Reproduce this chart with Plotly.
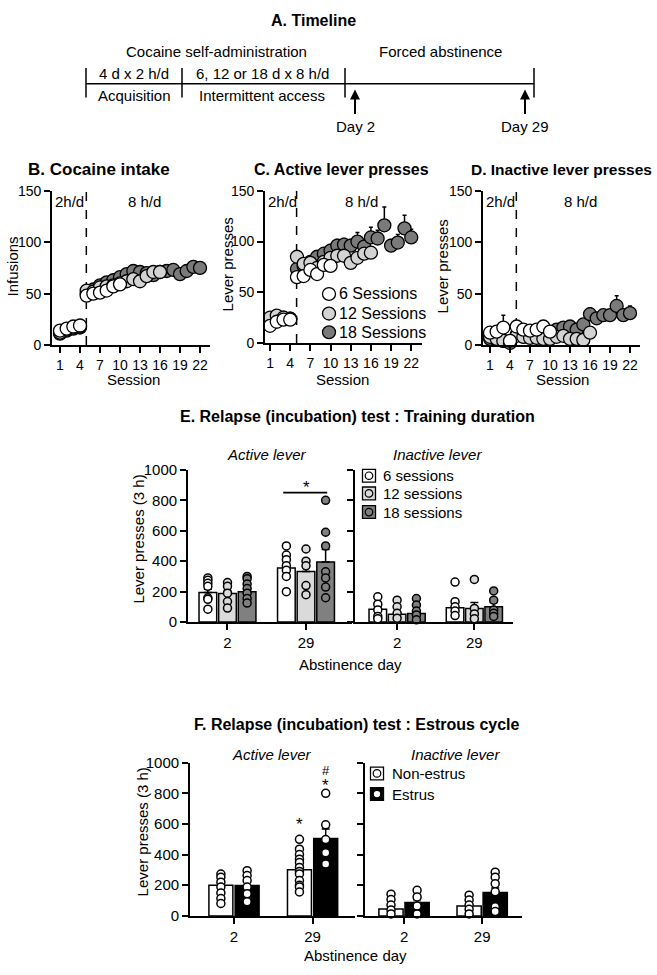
import plotly.graph_objects as go

W, H = 657, 975
FONT = "Arial, 'Liberation Sans', Helvetica, sans-serif"

# ---------------- DATA ----------------
group_names = ["6 Sessions", "12 Sessions", "18 Sessions"]
bar_group_names = ["6 sessions", "12 sessions", "18 sessions"]
estrus_names = ["Non-estrus", "Estrus"]
session_ticks = [1, 4, 7, 10, 13, 16, 19, 22]
days = ["2", "29"]

sessions_6 = list(range(1, 11))
sessions_12 = list(range(1, 17))
sessions_18 = list(range(1, 23))

# B. Cocaine intake (infusions)
inf_6 = [14, 16, 18, 19, 48, 50, 51, 53, 57, 59]
inf_12 = [12, 15, 17, 18, 53, 52, 56, 57, 58, 60, 62, 64, 62, 67, 71, 71]
inf_18 = [11, 14, 16, 17, 50, 54, 58, 61, 63, 66, 69, 72, 71, 70, 68, 71, 72, 73, 69, 72, 76, 75]
inf_err_6 = [2, 2, 2, 2, 3, 3, 3, 3, 3, 3]
inf_err_12 = [2, 2, 2, 2, 3, 3, 3, 3, 3, 3, 3, 3, 3, 3, 3, 3]
inf_err_18 = [2, 2, 2, 2, 3, 3, 3, 3, 3, 3, 3, 3, 3, 3, 3, 3, 3, 3, 3, 3, 3, 3]

# C. Active lever presses
act_6 = [17, 21, 23, 23, 65, 66, 72, 68, 77, 76]
act_12 = [25, 27, 25, 24, 85, 78, 79, 74, 80, 84, 86, 86, 79, 84, 88, 89]
act_18 = [22, 24, 25, 24, 73, 76, 80, 85, 88, 91, 96, 97, 96, 100, 95, 104, 103, 116, 96, 99, 113, 104]
act_err_6 = [3, 3, 3, 3, 4, 4, 4, 4, 4, 4]
act_err_12 = [3, 3, 3, 3, 5, 5, 5, 5, 5, 5, 5, 5, 5, 5, 5, 5]
act_err_18 = [3, 3, 3, 3, 5, 5, 5, 6, 6, 6, 6, 6, 6, 9, 6, 10, 8, 18, 6, 8, 13, 8]

# D. Inactive lever presses
inact_6 = [12, 13, 17, 4, 18, 15, 14, 15, 18, 13]
inact_12 = [8, 6, 4, 2, 9, 8, 7, 7, 6, 6, 8, 9, 6, 6, 5, 12]
inact_18 = [6, 5, 4, 3, 10, 8, 8, 9, 9, 10, 15, 17, 18, 15, 20, 30, 26, 29, 29, 38, 29, 31]
inact_err_6 = [3, 3, 12, 4, 3, 3, 3, 3, 3, 3]
inact_err_12 = [2, 2, 2, 2, 2, 2, 2, 2, 2, 2, 2, 2, 2, 2, 2, 2]
inact_err_18 = [2, 2, 2, 2, 3, 3, 3, 3, 3, 3, 4, 4, 4, 4, 4, 6, 5, 5, 5, 10, 5, 7]

# E. Training duration - active lever
E_act_mean = [[194, 355], [188, 333], [199, 395]]
E_act_sem = [[22, 32], [20, 37], [18, 81]]
E_act_pts = [
    [[290, 275, 255, 235, 160, 150, 85], [500, 440, 410, 370, 340, 300, 200]],
    [[260, 235, 190, 135, 92], [480, 400, 370, 240, 180]],
    [[300, 285, 250, 220, 190, 155, 125], [800, 590, 500, 330, 290, 230, 160]],
]
# E. Training duration - inactive lever
E_inact_mean = [[84, 95], [52, 90], [56, 101]]
E_inact_sem = [[18, 25], [15, 38], [12, 28]]
E_inact_pts = [
    [[166, 118, 80, 37, 22], [263, 134, 101, 73, 43]],
    [[144, 101, 58, 26], [280, 90, 54, 22]],
    [[155, 112, 73, 47, 15], [205, 144, 80, 58, 37]],
]

# F. Estrous cycle - active lever
F_act_mean = [[200, 301], [198, 505]]
F_act_sem = [[20, 27], [22, 62]]
F_act_pts = [
    [[273, 252, 220, 188, 150, 113, 81], [500, 435, 400, 370, 348, 316, 290, 274, 231, 200, 188, 156]],
    [[295, 263, 231, 188, 145, 92], [800, 594, 498, 412, 338]],
]
# F. Estrous cycle - inactive lever
F_inact_mean = [[45, 64], [88, 152]]
F_inact_sem = [[12, 15], [18, 30]]
F_inact_pts = [
    [[142, 107, 71, 39, 13], [135, 103, 71, 43, 13]],
    [[167, 124, 64, 13], [285, 253, 210, 157, 60, 28]],
]

# ---------------- STYLE ----------------
line_colors = ["#ffffff", "#d3d3d3", "#7a7a7a"]
bar_colors = ["#ffffff", "#dadada", "#808080"]
estrus_colors = ["#ffffff", "#000000"]
estrus_dot_colors = ["#ffffff", "#ffffff"]


def fx(x):
    return x / W


def fy(y):
    return 1 - y / H


fig = go.Figure()

# axis layout: name -> (px domain x, px domain y (top,bottom))
axes = {
    "": ((52, 210), (185, 342)),
    "2": ((265, 422), (185, 340)),
    "3": ((483, 640), (185, 342)),
    "4": ((188, 352), (469, 624)),
    "5": ((355, 513), (469, 624)),
    "6": ((190, 355), (767, 923)),
    "7": ((365, 522), (767, 923)),
}

axis_common = dict(showline=True, linecolor="black", linewidth=1.8, ticks="outside",
                   ticklen=6, tickwidth=1.8, tickcolor="black", showgrid=False,
                   zeroline=False, fixedrange=True)

layout_axes = {}
session_ranges = {"": [-0.2, 23.5], "2": [0.25, 23.6], "3": [-0.05, 23.5]}
for k, ((x0, x1), (yt, yb)) in axes.items():
    xa = "xaxis" + k
    ya = "yaxis" + k
    if k in session_ranges:
        layout_axes[xa] = dict(axis_common, domain=[fx(x0), fx(x1)], anchor="y" + k,
                               range=session_ranges[k], tickvals=session_ticks,
                               tickfont=dict(size=14, color="black", family=FONT))
        layout_axes[ya] = dict(axis_common, domain=[fy(yb), fy(yt)], anchor="x" + k,
                               range=[0, 150], tickvals=[0, 50, 100, 150],
                               tickfont=dict(size=14, color="black", family=FONT))
    else:
        layout_axes[xa] = dict(axis_common, domain=[fx(x0), fx(x1)], anchor="y" + k,
                               tickvals=[0, 1], ticktext=days,
                               tickfont=dict(size=15, color="black", family=FONT))
        layout_axes[ya] = dict(axis_common, domain=[fy(yb), fy(yt)], anchor="x" + k,
                               range=[0, 1000], tickvals=[0, 200, 400, 600, 800, 1000],
                               showticklabels=(k in ("4", "6")),
                               tickfont=dict(size=15, color="black", family=FONT))
layout_axes["xaxis4"]["range"] = [-0.503, 1.586]
layout_axes["xaxis5"]["range"] = [-0.545, 1.5]
layout_axes["xaxis6"]["range"] = [-0.56, 1.54]
layout_axes["xaxis7"]["range"] = [-0.5, 1.51]


# ---------------- B-D line panels ----------------
def add_session_panel(k, series, errs):
    xs_list = [sessions_6, sessions_12, sessions_18]
    for g in [2, 1, 0]:
        fig.add_trace(go.Scatter(
            x=xs_list[g], y=series[g], mode="markers",
            marker=dict(size=13, color=line_colors[g], line=dict(color="black", width=1.3)),
            error_y=dict(type="data", array=errs[g], arrayminus=[0] * len(errs[g]),
                         symmetric=False, color="black", thickness=1.5, width=2),
            xaxis="x" + k, yaxis="y" + k, cliponaxis=False, showlegend=False,
            name=group_names[g]))


add_session_panel("", [inf_6, inf_12, inf_18], [inf_err_6, inf_err_12, inf_err_18])
add_session_panel("2", [act_6, act_12, act_18], [act_err_6, act_err_12, act_err_18])
add_session_panel("3", [inact_6, inact_12, inact_18], [inact_err_6, inact_err_12, inact_err_18])


# ---------------- E/F bar panels ----------------
def add_bar_panel(k, means, sems, pts, colors, dot_colors, offsets, width, names):
    for g in range(len(means)):
        xs = [i + offsets[g] for i in range(len(days))]
        fig.add_trace(go.Bar(
            x=xs, y=means[g], width=width, name=names[g],
            marker=dict(color=colors[g], line=dict(color="black", width=1.5)),
            error_y=dict(type="data", array=sems[g], arrayminus=[0] * len(sems[g]),
                         symmetric=False, color="black", thickness=1.5, width=4),
            xaxis="x" + k, yaxis="y" + k, showlegend=False))
    for g in range(len(means)):
        for i, day_pts in enumerate(pts[g]):
            fig.add_trace(go.Scatter(
                x=[i + offsets[g]] * len(day_pts), y=day_pts, mode="markers",
                marker=dict(size=8, color=dot_colors[g], line=dict(color="black", width=1.5)),
                xaxis="x" + k, yaxis="y" + k, cliponaxis=False, showlegend=False,
                name=names[g]))


E_off = [-0.25, 0.0, 0.25]
F_off = [-0.167, 0.167]
add_bar_panel("4", E_act_mean, E_act_sem, E_act_pts, bar_colors, bar_colors, E_off, 0.225, bar_group_names)
add_bar_panel("5", E_inact_mean, E_inact_sem, E_inact_pts, bar_colors, bar_colors, E_off, 0.227, bar_group_names)
add_bar_panel("6", F_act_mean, F_act_sem, F_act_pts, estrus_colors, estrus_dot_colors, F_off, 0.305, estrus_names)
add_bar_panel("7", F_inact_mean, F_inact_sem, F_inact_pts, estrus_colors, estrus_dot_colors, F_off, 0.31, estrus_names)

# ---------------- shapes & annotations ----------------
shapes = []
annotations = []


def text(x, y, s, size=15, bold=False, italic=False, xanchor="center", yanchor="middle", angle=0):
    if bold:
        s = "<b>" + s + "</b>"
    if italic:
        s = "<i>" + s + "</i>"
    annotations.append(dict(x=fx(x), y=fy(y), xref="paper", yref="paper", text=s,
                            showarrow=False, xanchor=xanchor, yanchor=yanchor,
                            textangle=angle,
                            font=dict(size=size, color="black", family=FONT)))


def pline(x0, y0, x1, y1, w=1.5):
    shapes.append(dict(type="line", xref="paper", yref="paper", x0=fx(x0), y0=fy(y0),
                       x1=fx(x1), y1=fy(y1), line=dict(color="black", width=w)))


# A. Timeline
text(313, 12, "A. Timeline", size=16, bold=True)
text(216, 43, "Cocaine self-administration", size=15)
text(440, 43, "Forced abstinence", size=15)
text(134, 66, "4 d x 2 h/d", size=15)
text(262, 66, "6, 12 or 18 d x 8 h/d", size=15)
text(134, 88, "Acquisition", size=15)
text(262, 88, "Intermittent access", size=15)
pline(86, 76, 534, 76)
for xv in [86, 182, 345, 534]:
    pline(xv, 60, xv, 90)
for xv, lab in [(355, "Day 2"), (525, "Day 29")]:
    annotations.append(dict(x=fx(xv), y=fy(82), ax=0, ay=26, xref="paper", yref="paper",
                            axref="pixel", ayref="pixel", text="", showarrow=True,
                            arrowhead=2, arrowsize=1, arrowwidth=2, arrowcolor="black"))
    text(xv, 120, lab, size=15)

# B-D titles and labels
text(99, 163, "B. Cocaine intake", size=17, bold=True)
text(341, 163, "C. Active lever presses", size=16, bold=True)
text(561, 163, "D. Inactive lever presses", size=15.5, bold=True)
for xc in [133, 342, 562]:
    text(xc, 377, "Session", size=15)
text(12, 262, "Infusions", size=15, angle=-90)
text(227, 260, "Lever presses", size=15, angle=-90)
text(442, 262, "Lever presses", size=15, angle=-90)
for k, (x2h, x8h) in {"": (69, 144), "2": (282, 361), "3": (500, 580)}.items():
    text(x2h, 196, "2h/d", size=15)
    text(x8h, 196, "8 h/d", size=15)
    shapes.append(dict(type="line", xref="x" + k, yref="y" + k, x0=4.95, x1=4.95, y0=0, y1=150,
                       layer="below", line=dict(color="black", width=1.5, dash="dash")))

# C legend
for i, (yy, name) in enumerate(zip([290, 310, 329], group_names)):
    shapes.append(dict(type="circle", xref="paper", yref="paper",
                       x0=fx(329 - 6.5), x1=fx(329 + 6.5), y0=fy(yy + 6.5), y1=fy(yy - 6.5),
                       fillcolor=line_colors[i], line=dict(color="black", width=1.3)))
    text(337, yy, name, size=16, xanchor="left")

# E panel
text(357, 415, "E. Relapse (incubation) test : Training duration", size=16, bold=True)
text(267, 453, "Active lever", size=15, italic=True)
text(437, 453, "Inactive lever", size=15, italic=True)
text(139, 540, "Lever presses (3 h)", size=15, angle=-90)
text(350, 667, "Abstinence day", size=15)
shapes.append(dict(type="line", xref="x4", yref="y4", x0=1 - 0.29, x1=1 + 0.27, y0=850, y1=850,
                   line=dict(color="black", width=1.8)))
annotations.append(dict(x=1, y=850, xref="x4", yref="y4", text="*", showarrow=False,
                        yanchor="bottom", yshift=-6, font=dict(size=17, color="black", family=FONT)))
for i, (yy, name) in enumerate(zip([475, 493, 512], bar_group_names)):
    shapes.append(dict(type="rect", xref="paper", yref="paper",
                       x0=fx(369 - 6.5), x1=fx(369 + 6.5), y0=fy(yy + 6.5), y1=fy(yy - 6.5),
                       fillcolor=bar_colors[i], line=dict(color="black", width=1.3)))
    shapes.append(dict(type="circle", xref="paper", yref="paper",
                       x0=fx(369 - 3.8), x1=fx(369 + 3.8), y0=fy(yy + 3.8), y1=fy(yy - 3.8),
                       fillcolor=bar_colors[i], line=dict(color="black", width=1.2)))
    text(381, yy, name, size=15, xanchor="left")

# F panel
text(357, 728, "F. Relapse (incubation) test : Estrous cycle", size=16, bold=True)
text(272, 759, "Active lever", size=15, italic=True)
text(455, 759, "Inactive lever", size=15, italic=True)
text(142, 838, "Lever presses (3 h)", size=15, angle=-90)
text(355, 963, "Abstinence day", size=15)
for xv, yv, s in [(1 - 0.167, 615, "*"), (1 + 0.167, 872, "*"), (1 + 0.167, 950, "#")]:
    annotations.append(dict(x=xv, y=yv, xref="x6", yref="y6", text=s, showarrow=False,
                            yanchor="middle", yshift=-3 if s == "*" else 0,
                            font=dict(size=17 if s == "*" else 13, color="black", family=FONT)))
for i, (yy, name) in enumerate(zip([778, 799], estrus_names)):
    shapes.append(dict(type="rect", xref="paper", yref="paper",
                       x0=fx(377 - 6.5), x1=fx(377 + 6.5), y0=fy(yy + 6.5), y1=fy(yy - 6.5),
                       fillcolor=estrus_colors[i], line=dict(color="black", width=1.3)))
    shapes.append(dict(type="circle", xref="paper", yref="paper",
                       x0=fx(377 - 3.8), x1=fx(377 + 3.8), y0=fy(yy + 3.8), y1=fy(yy - 3.8),
                       fillcolor="#ffffff", line=dict(color="black", width=1.2)))
    text(390, yy, name, size=15, xanchor="left")

fig.update_layout(
    width=W, height=H, margin=dict(l=0, r=0, t=0, b=0),
    paper_bgcolor="white", plot_bgcolor="rgba(0,0,0,0)",
    barmode="overlay", showlegend=False,
    font=dict(family=FONT, color="black"),
    shapes=shapes, annotations=annotations,
    **layout_axes,
)

fig.write_html("out.html", config={"displayModeBar": False},
               post_script="document.body.style.margin='0px';document.body.style.overflow='hidden';")
